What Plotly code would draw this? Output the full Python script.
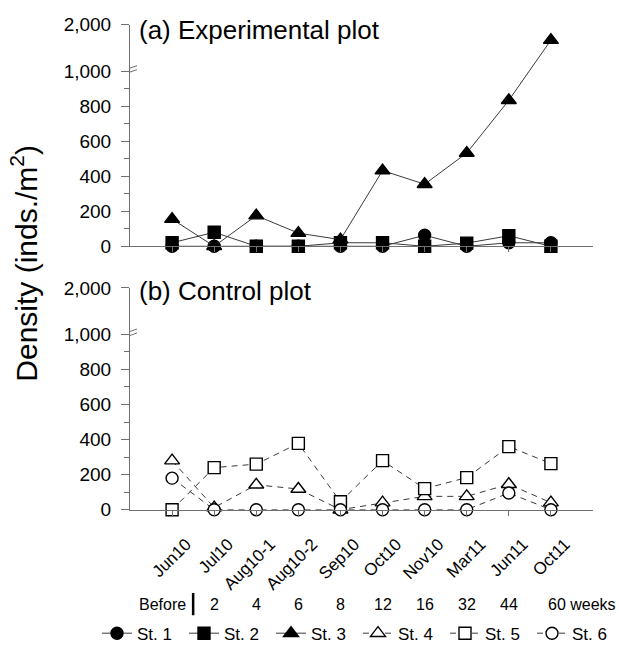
import plotly.graph_objects as go

# ---------------- data ----------------
months = ["Jun10", "Jul10", "Aug10-1", "Aug10-2", "Sep10", "Oct10", "Nov10", "Mar11", "Jun11", "Oct11"]
weeks = ["2", "4", "6", "8", "12", "16", "32", "44", "60 weeks"]

# (a) Experimental plot
st1 = [0, 0, 0, 0, 0, 0, 63, 0, 20, 20]
st2 = [20, 80, 0, 0, 20, 20, 0, 18, 60, 0]
st3 = [155, 0, 175, 75, 38, 432, 354, 532, 833, 1665]
# (b) Control plot
st4 = [280, 12, 142, 118, 0, 40, 76, 76, 145, 40]
st5 = [0, 240, 260, 378, 45, 280, 120, 183, 360, 263]
st6 = [180, 0, 0, 0, 0, 0, 0, 0, 95, 0]

ytick_vals = [0, 200, 400, 600, 800, 1000, 2000]
ytick_text = ["0", "200", "400", "600", "800", "1,000", "2,000"]
yminor_vals = [100, 300, 500, 700, 900]

# ---------------- broken-axis transform ----------------
BREAK = 1000
K = 48.0 / 181.0   # compression of the segment above the break


def disp(v):
    return v if v <= BREAK else BREAK + (v - BREAK) * K


def tr(vals):
    return [disp(v) for v in vals]


FONT = "Liberation Sans, Arial, sans-serif"
LINE_C = "#3a3a3a"
AX_C = "#707070"
W, H = 619, 664

fig = go.Figure()

series = [
    ("St. 1", st1, "circle", "black", "solid", "x", "y"),
    ("St. 2", st2, "square", "black", "solid", "x", "y"),
    ("St. 3", st3, "triangle-up", "black", "solid", "x", "y"),
    ("St. 4", st4, "triangle-up", "white", "6px,5px", "x2", "y2"),
    ("St. 5", st5, "square", "white", "6px,5px", "x2", "y2"),
    ("St. 6", st6, "circle", "white", "6px,5px", "x2", "y2"),
]
for name, vals, sym, fill, dash, xa, ya in series:
    size = 13 if "triangle" in sym else 12
    fig.add_trace(go.Scatter(
        x=months, y=tr(vals), name=name, mode="lines+markers",
        xaxis=xa, yaxis=ya, cliponaxis=False,
        line=dict(color=LINE_C, width=1, dash=dash),
        marker=dict(symbol=sym, size=size, color=fill,
                    line=dict(color="black", width=1.4)),
    ))

px_x = lambda p: p / W
px_y = lambda p: 1 - p / H

xdom = [px_x(130), px_x(593)]
ydom_a = [px_y(244), px_y(15)]
ydom_b = [px_y(516), px_y(287)]

yaxis_common = dict(
    range=[0, disp(2000)], tickmode="array",
    tickvals=tr(ytick_vals), ticktext=ytick_text,
    ticks="outside", ticklen=8, tickwidth=1, tickcolor=AX_C,
    minor=dict(tickvals=yminor_vals, ticks="outside", ticklen=5, tickcolor=AX_C, tickwidth=1),
    showline=True, linecolor=AX_C, linewidth=1,
    showgrid=False, zeroline=False,
    tickfont=dict(family=FONT, size=19, color="black"),
    ticklabelstandoff=6,
)
xaxis_common = dict(
    type="category", categoryorder="array", categoryarray=months,
    range=[-1, 10], ticks="outside", ticklen=5, tickcolor=AX_C,
    showline=True, linecolor=AX_C, linewidth=1,
    showgrid=False, zeroline=False,
)

fig.update_layout(
    width=W, height=H,
    margin=dict(l=0, r=0, t=0, b=0),
    paper_bgcolor="white", plot_bgcolor="white",
    font=dict(family=FONT, color="black"),
    xaxis=dict(domain=xdom, anchor="y", showticklabels=False, **xaxis_common),
    yaxis=dict(domain=ydom_a, anchor="x", **yaxis_common),
    xaxis2=dict(domain=xdom, anchor="y2", tickangle=-45,
                ticklabelshift=14, ticklabelstandoff=12,
                tickfont=dict(family=FONT, size=17, color="black"), **xaxis_common),
    yaxis2=dict(domain=ydom_b, anchor="x2", **yaxis_common),
    showlegend=True,
    legend=dict(orientation="h", x=1, y=px_y(644), xanchor="right", yanchor="middle",
                font=dict(family=FONT, size=17, color="black"),
                itemwidth=30, tracegroupgap=0,
                entrywidth=42, entrywidthmode="pixels",
                bgcolor="rgba(0,0,0,0)"),
)

# panel titles
fig.add_annotation(text="(a) Experimental plot", xref="paper", yref="paper",
                   x=px_x(137), y=px_y(21), xanchor="left", yanchor="middle",
                   showarrow=False, font=dict(family=FONT, size=26, color="black"))
fig.add_annotation(text="(b) Control plot", xref="paper", yref="paper",
                   x=px_x(137), y=px_y(290), xanchor="left", yanchor="middle",
                   showarrow=False, font=dict(family=FONT, size=26, color="black"))
# y title
fig.add_annotation(text="Density (inds./m<sup>2</sup>)", xref="paper", yref="paper",
                   x=px_x(24), y=px_y(262), textangle=-90, xanchor="center", yanchor="middle",
                   showarrow=False, font=dict(family=FONT, size=30, color="black"))

# weeks row
WY = px_y(614)
fig.add_annotation(text="Before", xref="x2", yref="paper", x=0.5, y=WY,
                   xanchor="right", xshift=-5, yanchor="middle", showarrow=False,
                   font=dict(family=FONT, size=16, color="black"))
fig.add_shape(type="line", xref="x2", yref="paper", x0=0.5, x1=0.5,
              y0=px_y(625), y1=px_y(602), line=dict(color="black", width=2.5))
for i, w in enumerate(weeks):
    idx = i + 1
    if w.endswith("weeks"):
        fig.add_annotation(text=w, xref="x2", yref="paper", x=idx, y=WY,
                           xanchor="left", xshift=-5, yanchor="middle", showarrow=False,
                           font=dict(family=FONT, size=16, color="black"))
    else:
        fig.add_annotation(text=w, xref="x2", yref="paper", x=idx, y=WY,
                           xanchor="center", yanchor="middle", showarrow=False,
                           font=dict(family=FONT, size=16, color="black"))

# axis break marks
for xr, yr in (("x", "y"), ("x2", "y2")):
    for off in (-2.5, 1.5):
        fig.add_shape(type="line", xref=xr, yref=yr,
                      xsizemode="pixel", xanchor=-1, x0=-7, x1=7,
                      ysizemode="pixel", yanchor=disp(1030), y0=off - 2.5, y1=off + 2.5,
                      line=dict(color=AX_C, width=1))

fig.write_html("out.html")
